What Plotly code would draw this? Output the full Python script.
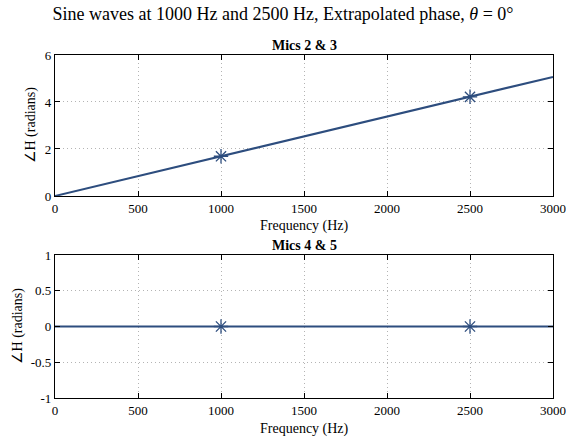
import plotly.graph_objects as go

# Data
line_freq = [0, 3000]
line_phase_23 = [0, 5.07]
line_phase_45 = [0, 0]
marker_freq = [1000, 2500]
marker_phase_23 = [1.69, 4.22]
marker_phase_45 = [0, 0]
x_ticks = [0, 500, 1000, 1500, 2000, 2500, 3000]
y_ticks_top = [0, 2, 4, 6]
y_ticks_bot = [-1, -0.5, 0, 0.5, 1]
y_ticktext_bot = ["-1", "-0.5", "0", "0.5", "1"]
main_title = "Sine waves at 1000 Hz and 2500 Hz, Extrapolated phase, <i>θ</i> = 0°"
sub_titles = ["<b>Mics 2 & 3</b>", "<b>Mics 4 & 5</b>"]
x_label = "Frequency (Hz)"
y_label = "∠H (radians)"

color = "#2d4d7e"
font = "Liberation Serif"

marker_style = dict(symbol="asterisk-open", size=12, color=color, line=dict(color=color, width=1.3))

fig = go.Figure()
fig.add_trace(go.Scatter(x=line_freq, y=line_phase_23, mode="lines",
                         line=dict(color=color, width=2), xaxis="x", yaxis="y", showlegend=False))
fig.add_trace(go.Scatter(x=marker_freq, y=marker_phase_23, mode="markers",
                         marker=marker_style, xaxis="x", yaxis="y", showlegend=False))
fig.add_trace(go.Scatter(x=line_freq, y=line_phase_45, mode="lines",
                         line=dict(color=color, width=2), xaxis="x2", yaxis="y2", showlegend=False))
fig.add_trace(go.Scatter(x=marker_freq, y=marker_phase_45, mode="markers",
                         marker=marker_style, xaxis="x2", yaxis="y2", showlegend=False))

axis_common = dict(showline=True, linecolor="black", linewidth=1.2, mirror="ticks",
                   ticks="inside", ticklen=5, tickcolor="black", automargin=False,
                   showgrid=True, gridcolor="#b4b4b4", griddash="1px,3px", gridwidth=1,
                   zeroline=False, tickfont=dict(family=font, size=13, color="black"))

top_domain = [0.589, 1.0]
bot_domain = [0.0, 0.417]
label_font = dict(family=font, size=14, color="black")

annotations = [
    dict(text=sub_titles[0], x=0.5, y=top_domain[1], xref="paper", yref="paper",
         xanchor="center", yanchor="bottom", showarrow=False,
         font=dict(family=font, size=14, color="black")),
    dict(text=sub_titles[1], x=0.5, y=bot_domain[1], xref="paper", yref="paper",
         xanchor="center", yanchor="bottom", showarrow=False,
         font=dict(family=font, size=14, color="black")),
    dict(text=x_label, x=0.5, y=top_domain[0], xref="paper", yref="paper",
         xanchor="center", yanchor="middle", yshift=-30, showarrow=False, font=label_font),
    dict(text=x_label, x=0.5, y=bot_domain[0], xref="paper", yref="paper",
         xanchor="center", yanchor="middle", yshift=-31, showarrow=False, font=label_font),
    dict(text=y_label, x=0, y=(top_domain[0] + top_domain[1]) / 2, xref="paper", yref="paper",
         xanchor="center", yanchor="middle", xshift=-24, textangle=-90, showarrow=False,
         font=label_font),
    dict(text=y_label, x=0, y=(bot_domain[0] + bot_domain[1]) / 2, xref="paper", yref="paper",
         xanchor="center", yanchor="middle", xshift=-37, textangle=-90, showarrow=False,
         font=label_font),
]

fig.update_layout(
    width=566, height=440,
    margin=dict(l=55, r=13, t=55, b=42),
    paper_bgcolor="white", plot_bgcolor="white",
    font=dict(family=font, color="black"),
    title=dict(text=main_title, x=0.5, xanchor="center", y=0.968, yanchor="middle",
               font=dict(family=font, size=18, color="black")),
    xaxis=dict(axis_common, domain=[0, 1], anchor="y", range=[0, 3000], tickvals=x_ticks),
    yaxis=dict(axis_common, domain=top_domain, anchor="x", range=[0, 6], tickvals=y_ticks_top),
    xaxis2=dict(axis_common, domain=[0, 1], anchor="y2", range=[0, 3000], tickvals=x_ticks),
    yaxis2=dict(axis_common, domain=bot_domain, anchor="x2", range=[-1, 1], tickvals=y_ticks_bot,
                ticktext=y_ticktext_bot),
    annotations=annotations,
)

fig.write_html("out.html", config={"displayModeBar": False},
               post_script="document.body.style.margin='0';document.body.style.overflow='hidden';")
